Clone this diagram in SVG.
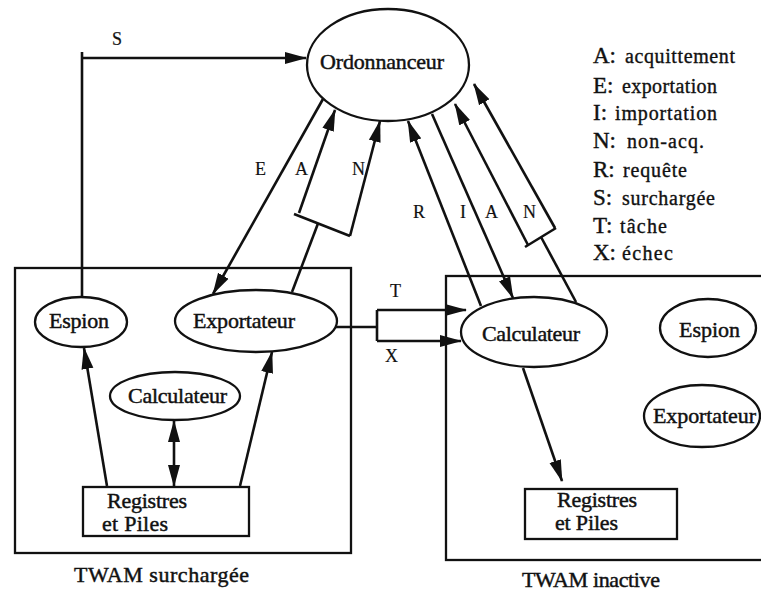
<svg xmlns="http://www.w3.org/2000/svg" width="761" height="591" viewBox="0 0 761 591">
  <style>
    text { font-family: "Liberation Serif", "Times New Roman", serif; fill: #111; }
    .n { font-size: 22px; stroke: #111; stroke-width: 0.45; }
    .lbl { font-size: 18px; stroke: #111; stroke-width: 0.2; }
    .key { font-size: 23px; stroke: #111; stroke-width: 0.4; }
    .desc { font-size: 20px; stroke: #111; stroke-width: 0.35; }
    .shape { fill: #fff; stroke: #111; stroke-width: 2.3; }
    .box { fill: none; stroke: #111; stroke-width: 2.3; }
    .c { fill: none; stroke: #111; stroke-width: 2.6; }
  </style>
  <defs>
    <marker id="ah" markerUnits="userSpaceOnUse" markerWidth="23" markerHeight="13" refX="21" refY="6.5" orient="auto-start-reverse">
      <path d="M0,0.5 L22,6.5 L0,12.5 z" fill="#111"/>
    </marker>
  </defs>

  <rect width="761" height="591" fill="#fff"/>

  <!-- machine frames -->
  <g id="twam-surchargee">
    <rect class="box" x="15" y="268" width="336" height="285"/>
    <text class="n" x="74" y="582" textLength="175">TWAM surchargée</text>
  </g>
  <g id="twam-inactive">
    <rect class="box" x="446" y="276" width="330" height="284"/>
    <text class="n" x="522" y="587" textLength="138">TWAM inactive</text>
  </g>

  <!-- connectors -->
  <g id="connectors">
    <!-- S : espion -> ordonnanceur -->
    <path class="c" d="M82,297 V52"/>
    <path class="c" d="M82,58 H306" marker-end="url(#ah)"/>
    <!-- E : ordonnanceur -> exportateur -->
    <path class="c" d="M323,99 L213,294" marker-end="url(#ah)"/>
    <!-- A / N from exportateur (bracket) -->
    <path class="c" d="M292,292 L318,223.5"/>
    <path class="c" d="M294,214 L350,236"/>
    <path class="c" d="M299,213 L335,110" marker-end="url(#ah)"/>
    <path class="c" d="M350,236 L380,121" marker-end="url(#ah)"/>
    <!-- R : calculateur -> ordonnanceur -->
    <path class="c" d="M481,306 L408,121" marker-end="url(#ah)"/>
    <!-- I : ordonnanceur -> calculateur -->
    <path class="c" d="M432,114 L513,298" marker-end="url(#ah)"/>
    <!-- A / N from calculateur (bracket) -->
    <path class="c" d="M576,302 L541,237"/>
    <path class="c" d="M525,247 L556,228"/>
    <path class="c" d="M528,245 L455,104" marker-end="url(#ah)"/>
    <path class="c" d="M555,228 L474,84" marker-end="url(#ah)"/>
    <!-- T / X : exportateur -> calculateur -->
    <path class="c" d="M336,327 H377"/>
    <path class="c" d="M377,310 V341"/>
    <path class="c" d="M377,310 H466" marker-end="url(#ah)"/>
    <path class="c" d="M377,341 H461" marker-end="url(#ah)"/>
    <!-- inside the overloaded machine -->
    <path class="c" d="M107,486 L84,348" marker-end="url(#ah)"/>
    <path class="c" d="M240,486 L272,352" marker-end="url(#ah)"/>
    <path class="c" d="M174,421 V486" marker-start="url(#ah)" marker-end="url(#ah)"/>
    <!-- inside the idle machine -->
    <path class="c" d="M523,368 L562,481" marker-end="url(#ah)"/>

    <!-- connector labels -->
    <text class="lbl" x="112" y="45">S</text>
    <text class="lbl" x="255" y="175">E</text>
    <text class="lbl" x="295" y="175">A</text>
    <text class="lbl" x="352" y="175">N</text>
    <text class="lbl" x="413" y="218">R</text>
    <text class="lbl" x="460" y="218">I</text>
    <text class="lbl" x="485" y="218">A</text>
    <text class="lbl" x="523" y="218">N</text>
    <text class="lbl" x="390" y="297">T</text>
    <text class="lbl" x="385" y="362">X</text>
  </g>

  <!-- nodes -->
  <g id="ordonnanceur">
    <ellipse class="shape" cx="388" cy="65" rx="81" ry="56"/>
    <text class="n" x="320" y="69" textLength="124">Ordonnanceur</text>
  </g>

  <g id="espion-1">
    <ellipse class="shape" cx="81" cy="322" rx="46" ry="25"/>
    <text class="n" x="49" y="328" textLength="60">Espion</text>
  </g>
  <g id="exportateur-1">
    <ellipse class="shape" cx="256" cy="321" rx="81" ry="31"/>
    <text class="n" x="193" y="328" textLength="102">Exportateur</text>
  </g>
  <g id="calculateur-1">
    <ellipse class="shape" cx="175" cy="396" rx="65" ry="24"/>
    <text class="n" x="128" y="403" textLength="99">Calculateur</text>
  </g>
  <g id="registres-1">
    <rect class="shape" x="83" y="487" width="166" height="49"/>
    <text class="n" x="107" y="508" textLength="80">Registres</text>
    <text class="n" x="102" y="531" textLength="66">et Piles</text>
  </g>

  <g id="calculateur-2">
    <ellipse class="shape" cx="534" cy="332" rx="73" ry="35"/>
    <text class="n" x="482" y="341" textLength="98">Calculateur</text>
  </g>
  <g id="espion-2">
    <ellipse class="shape" cx="708" cy="328" rx="48" ry="29"/>
    <text class="n" x="679" y="337" textLength="61">Espion</text>
  </g>
  <g id="exportateur-2">
    <ellipse class="shape" cx="702" cy="416" rx="58" ry="31"/>
    <text class="n" x="653" y="423" textLength="103">Exportateur</text>
  </g>
  <g id="registres-2">
    <rect class="shape" x="525" y="489" width="152" height="50"/>
    <text class="n" x="557" y="507" textLength="80">Registres</text>
    <text class="n" x="555" y="530" textLength="63">et Piles</text>
  </g>

  <!-- legend -->
  <g id="legend">
    <text class="key" x="593" y="63">A:</text><text class="desc" x="625" y="63" textLength="110">acquittement</text>
    <text class="key" x="593" y="93">E:</text><text class="desc" x="622" y="93" textLength="95">exportation</text>
    <text class="key" x="593" y="120">I:</text><text class="desc" x="615" y="120" textLength="102">importation</text>
    <text class="key" x="593" y="148">N:</text><text class="desc" x="627" y="148" textLength="77">non-acq.</text>
    <text class="key" x="593" y="177">R:</text><text class="desc" x="623" y="177" textLength="64">requête</text>
    <text class="key" x="593" y="205">S:</text><text class="desc" x="622" y="205" textLength="93">surchargée</text>
    <text class="key" x="593" y="233">T:</text><text class="desc" x="620" y="233" textLength="47">tâche</text>
    <text class="key" x="593" y="260">X:</text><text class="desc" x="622" y="260" textLength="51">échec</text>
  </g>
</svg>
